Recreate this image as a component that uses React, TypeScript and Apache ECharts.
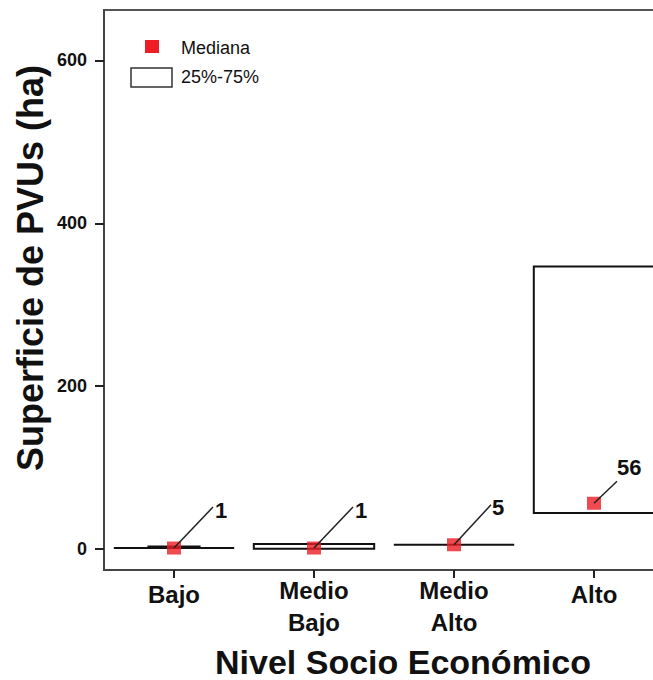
import React, { useEffect, useRef } from "react";
import * as echarts from "echarts";

// Socio-economic level categories and box-plot summaries of PVU surface (ha)
const categories = ["Bajo", "Medio\nBajo", "Medio\nAlto", "Alto"];
const q1Values = [1, 0, 5, 44];
const q3Values = [1, 6, 5, 347];
const upperValues = [3, 6, 5, 347];
const medianValues = [1, 1, 5, 56];
const yTicks = [0, 200, 400, 600];

const legendLabels = ["Mediana", "25%-75%"];
const yTitle = "Superficie de PVUs (ha)";
const xTitle = "Nivel Socio Económico";

const FONT = "'Liberation Sans', Arial, Helvetica, sans-serif";

// pixel offsets of each callout line end and its text, relative to the median marker
const leaderLayout = [
  { line: [39, -41], text: [41, -38] },
  { line: [39, -41], text: [41, -38] },
  { line: [37, -40], text: [38, -37] },
  { line: [23, -22], text: [23, -36] },
];

export default function App() {
  const ref = useRef<HTMLDivElement>(null);

  useEffect(() => {
    if (!ref.current) return;
    const chart = echarts.init(ref.current, null, { renderer: "svg" });

    const boxData = categories.map((_, i) => [i, q1Values[i], q3Values[i], upperValues[i]]);
    const medianData = medianValues.map((v, i) => [i, v]);

    const option: any = {
      animation: false,
      backgroundColor: "#ffffff",
      grid: {
        left: 104,
        top: 10,
        width: 560,
        height: 560,
        containLabel: false,
        outerBoundsMode: "none",
        show: true,
        borderColor: "#555",
        borderWidth: 2,
        backgroundColor: "transparent",
      },
      xAxis: {
        type: "category",
        data: categories,
        boundaryGap: true,
        axisLine: { show: true, onZero: false, lineStyle: { color: "#444", width: 2 } },
        axisTick: {
          show: true,
          alignWithLabel: true,
          length: 8,
          lineStyle: { color: "#222", width: 2 },
        },
        axisLabel: {
          margin: 4,
          color: "#111",
          fontFamily: FONT,
          fontSize: 24,
          fontWeight: "bold",
          lineHeight: 32,
          verticalAlign: "top",
          formatter: (v: string) => (v.indexOf("\n") >= 0 ? v : "{s|" + v + "}"),
          rich: {
            s: {
              color: "#111",
              fontFamily: FONT,
              fontSize: 24,
              fontWeight: "bold",
              lineHeight: 32,
              padding: [8, 0, 0, 0],
            },
          },
        },
        splitLine: { show: false },
      },
      yAxis: {
        type: "value",
        min: -26,
        max: 662,
        axisLine: { show: true, lineStyle: { color: "#444", width: 2 } },
        axisTick: {
          show: true,
          length: 9,
          customValues: yTicks,
          lineStyle: { color: "#222", width: 2 },
        },
        axisLabel: {
          customValues: yTicks,
          margin: 17,
          color: "#111",
          fontFamily: FONT,
          fontSize: 18,
          fontWeight: "bold",
        },
        splitLine: { show: false },
      },
      series: [
        {
          type: "custom",
          name: "25%-75%",
          z: 2,
          data: boxData,
          renderItem: (params: any, api: any) => {
            const idx = api.value(0);
            const lo = api.coord([idx, api.value(1)]);
            const hi = api.coord([idx, api.value(2)]);
            const top = api.coord([idx, api.value(3)]);
            const band = api.size([1, 0])[0];
            const half = band * 0.43;
            const capHalf = band * 0.19;
            const children: any[] = [
              {
                type: "rect",
                shape: { x: lo[0] - half, y: hi[1], width: half * 2, height: lo[1] - hi[1] },
                style: { fill: "#fff", stroke: "#111", lineWidth: 2 },
              },
            ];
            if (api.value(3) > api.value(2)) {
              children.push({
                type: "line",
                shape: { x1: top[0], y1: hi[1], x2: top[0], y2: top[1] },
                style: { stroke: "#111", lineWidth: 2 },
              });
              children.push({
                type: "line",
                shape: { x1: top[0] - capHalf, y1: top[1], x2: top[0] + capHalf, y2: top[1] },
                style: { stroke: "#111", lineWidth: 2 },
              });
            }
            return { type: "group", children };
          },
        },
        {
          type: "scatter",
          name: "Mediana",
          z: 3,
          data: medianData,
          symbol: "rect",
          symbolSize: [14, 13],
          itemStyle: { color: "#ee1c24" },
        },
        {
          type: "custom",
          name: "labels",
          z: 4,
          data: medianData,
          renderItem: (params: any, api: any) => {
            const idx = api.value(0);
            const val = api.value(1);
            const p = api.coord([idx, val]);
            const lay = leaderLayout[params.dataIndex];
            return {
              type: "group",
              children: [
                {
                  type: "line",
                  shape: { x1: p[0], y1: p[1], x2: p[0] + lay.line[0], y2: p[1] + lay.line[1] },
                  style: { stroke: "#222", lineWidth: 1.5 },
                },
                {
                  type: "text",
                  x: p[0] + lay.text[0],
                  y: p[1] + lay.text[1],
                  style: {
                    text: String(val),
                    fill: "#111",
                    font: "bold 22px " + FONT,
                    textAlign: "left",
                    textVerticalAlign: "middle",
                  },
                },
              ],
            };
          },
        },
      ],
      graphic: [
        {
          type: "rect",
          shape: { x: 145, y: 40, width: 14, height: 13 },
          style: { fill: "#ee1c24" },
        },
        {
          type: "text",
          x: 181,
          y: 48,
          style: {
            text: legendLabels[0],
            fill: "#111",
            font: "18px " + FONT,
            textVerticalAlign: "middle",
          },
        },
        {
          type: "rect",
          shape: { x: 131, y: 68, width: 41, height: 19 },
          style: { fill: "#fff", stroke: "#333", lineWidth: 1.5 },
        },
        {
          type: "text",
          x: 181,
          y: 77,
          style: {
            text: legendLabels[1],
            fill: "#111",
            font: "18px " + FONT,
            textVerticalAlign: "middle",
          },
        },
        {
          type: "text",
          x: 30,
          y: 268,
          rotation: Math.PI / 2,
          style: {
            text: yTitle,
            fill: "#111",
            font: "bold 36px " + FONT,
            textAlign: "center",
            textVerticalAlign: "middle",
          },
        },
        {
          type: "text",
          x: 403,
          y: 662,
          style: {
            text: xTitle,
            fill: "#111",
            font: "bold 34px " + FONT,
            textAlign: "center",
            textVerticalAlign: "middle",
          },
        },
      ],
    };

    chart.setOption(option);
    return () => chart.dispose();
  }, []);

  return <div ref={ref} style={{ width: 653, height: 680, position: "absolute", left: 0, top: 0 }} />;
}
